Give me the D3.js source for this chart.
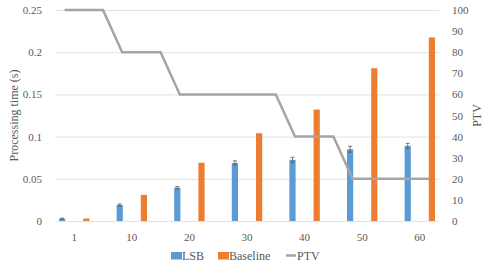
<!DOCTYPE html>
<html>
<head>
<meta charset="utf-8">
<script src="https://cdn.jsdelivr.net/npm/d3@7"></script>
<style>
  body { margin: 0; background: white; }
  text { font-family: "Liberation Serif", "Times New Roman", serif; fill: #595959; }
</style>
</head>
<body>
<script>
// Data
let groups = ['1', '10', '20', '30', '40', '50', '60'];
let lsb = [0.0027, 0.019, 0.0395, 0.0688, 0.0725, 0.085, 0.089];
let lsbErr = [0.0006, 0.0012, 0.0015, 0.0025, 0.003, 0.0035, 0.003];
let baseline = [0.003, 0.031, 0.069, 0.104, 0.132, 0.181, 0.2175];
// PTV is drawn on the 20 slots of the sheet (3 slots per group, the last group has 2)
let ptv = [100, 100, 100, 80, 80, 80, 60, 60, 60, 60, 60, 60, 40, 40, 40, 20, 20, 20, 20, 20];
let leftTicks = [0, 0.05, 0.1, 0.15, 0.2, 0.25];
let rightTicks = [0, 10, 20, 30, 40, 50, 60, 70, 80, 90, 100];
let series = ['LSB', 'Baseline'];
let colors = ['#5B9BD5', '#ED7D31', '#A5A5A5'];

let width = 491,
    height = 276;

let margin = { top: 10, bottom: 55, left: 55, right: 52 };

let svg = d3.select('body')
  .append('svg')
  .attr('width', width)
  .attr('height', height);

// scales
let x = d3.scaleBand()
  .domain(d3.range(ptv.length))
  .range([margin.left, width - margin.right]);

let xs = d3.scalePoint()
  .domain(series)
  .range([-2.5, 2.5]);

let y = d3.scaleLinear()
  .domain([0, 0.25])
  .range([height - margin.bottom, margin.top]);

let y2 = d3.scaleLinear()
  .domain([0, 100])
  .range([height - margin.bottom, margin.top]);

// gridlines
svg.append('g')
  .attr('transform', `translate(${margin.left},0)`)
  .call(d3.axisLeft(y).tickValues(leftTicks).tickSize(-(width - margin.left - margin.right)).tickFormat(''))
  .call(g => g.select('.domain').remove())
  .call(g => g.selectAll('line').attr('stroke', '#D9D9D9').attr('stroke-width', 0.8));

// left axis
svg.append('g')
  .attr('transform', `translate(${margin.left - 10},0)`)
  .call(d3.axisLeft(y).tickValues(leftTicks).tickSize(0).tickFormat(d => String(d)))
  .call(g => g.select('.domain').remove())
  .call(g => g.selectAll('text').style('font-size', '11px').style('fill', '#595959'));

// right axis
svg.append('g')
  .attr('transform', `translate(${width - margin.right + 10},0)`)
  .call(d3.axisRight(y2).tickValues(rightTicks).tickSize(0))
  .call(g => g.select('.domain').remove())
  .call(g => g.selectAll('text').style('font-size', '11px').style('fill', '#595959'));

// category labels, centred between the two bars of each group
let groupCenter = i => (x(3 * i) + x(3 * i + 1)) / 2 + x.bandwidth() / 2;

svg.selectAll('.cat')
  .data(groups)
  .enter()
  .append('text')
  .attr('class', 'cat')
  .attr('x', (d, i) => groupCenter(i))
  .attr('y', height - margin.bottom + 20)
  .attr('text-anchor', 'middle')
  .style('font-size', '11px')
  .text(d => d);

// axis titles
svg.append('text')
  .attr('transform', `translate(18,${(margin.top + height - margin.bottom) / 2}) rotate(-90)`)
  .attr('text-anchor', 'middle')
  .style('font-size', '12px')
  .text('Processing time (s)');

svg.append('text')
  .attr('transform', `translate(481,${(margin.top + height - margin.bottom) / 2}) rotate(-90)`)
  .attr('text-anchor', 'middle')
  .style('font-size', '12px')
  .text('PTV');

// bars
let barW = 6.2;
let bars = [
  { name: 'LSB', values: lsb, slot: 0 },
  { name: 'Baseline', values: baseline, slot: 1 }
];

bars.forEach((s, k) => {
  svg.selectAll('.bar-' + s.name)
    .data(s.values)
    .enter()
    .append('rect')
    .attr('x', (d, i) => x(3 * i + s.slot) + x.bandwidth() / 2 + xs(s.name) - barW / 2)
    .attr('y', d => y(d))
    .attr('width', barW)
    .attr('height', d => y(0) - y(d))
    .attr('fill', colors[k]);
});

// error bars on LSB
let errX = i => x(3 * i) + x.bandwidth() / 2 + xs('LSB');
let err = svg.append('g').attr('stroke', '#595959').attr('stroke-width', 0.8);

err.selectAll('.eb')
  .data(lsb)
  .enter()
  .append('path')
  .attr('fill', 'none')
  .attr('d', (d, i) => {
    let cx = errX(i), lo = y(d - lsbErr[i]), hi = y(d + lsbErr[i]);
    return `M${cx},${lo}V${hi}M${cx - 2},${hi}H${cx + 2}M${cx - 2},${lo}H${cx + 2}`;
  });

// PTV line
let line = d3.line()
  .x((d, i) => x(i) + x.bandwidth() / 2)
  .y(d => y2(d));

svg.append('path')
  .datum(ptv)
  .attr('d', line)
  .attr('fill', 'none')
  .attr('stroke', colors[2])
  .attr('stroke-width', 2.5);

// legend
let legend = [
  { name: 'LSB', x: 171, type: 'rect' },
  { name: 'Baseline', x: 218, type: 'rect' },
  { name: 'PTV', x: 286, type: 'line' }
];

legend.forEach((d, i) => {
  if (d.type === 'rect') {
    svg.append('rect')
      .attr('x', d.x)
      .attr('y', 252)
      .attr('width', 11)
      .attr('height', 7.5)
      .attr('fill', colors[i]);
  } else {
    svg.append('line')
      .attr('x1', d.x)
      .attr('x2', d.x + 10)
      .attr('y1', 255.5)
      .attr('y2', 255.5)
      .attr('stroke', colors[i])
      .attr('stroke-width', 2.5);
  }
  svg.append('text')
    .attr('x', d.x + 11)
    .attr('y', 260)
    .style('font-size', '12px')
    .text(d.name);
});
</script>
</body>
</html>
